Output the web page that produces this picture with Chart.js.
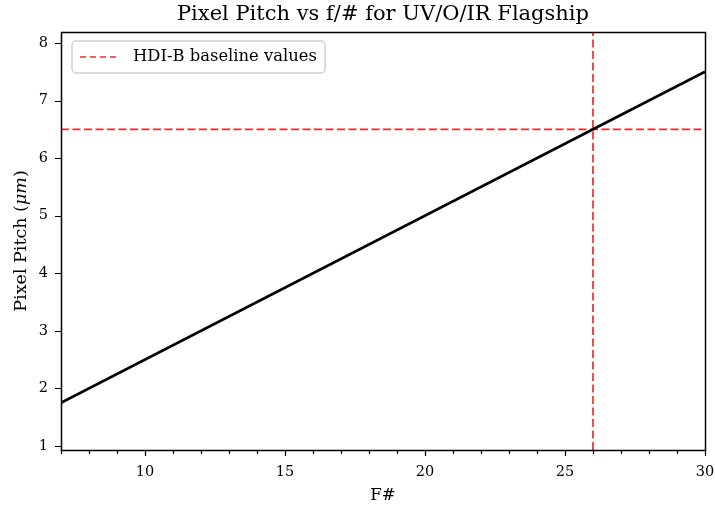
<!DOCTYPE html>
<html>
<head>
<meta charset="utf-8">
<script src="https://cdn.jsdelivr.net/npm/chart.js@4/dist/chart.umd.min.js"></script>
<style>
  html, body { margin: 0; padding: 0; background: #fff; }
  #wrap { width: 715px; height: 508px; }
</style>
</head>
<body>
<div id="wrap"><canvas id="c" width="715" height="508"></canvas></div>
<script>
// Pixel pitch scales linearly with the focal ratio
const fNumbers = [7, 30];
const pixelPitch = [1.75, 7.5];

// HDI-B baseline design point
const baselineF = 26;
const baselinePitch = 6.5;
const baselineLabel = 'HDI-B baseline values';

const chartTitle = 'Pixel Pitch vs f/# for UV/O/IR Flagship';

// Axis ranges and tick values
const xRange = [7, 30];
const yRange = [0.93, 8.19];
const xMajorTicks = [10, 15, 20, 25, 30];
const xMinorTicks = [7, 8, 9, 11, 12, 13, 14, 16, 17, 18, 19, 21, 22, 23, 24, 26, 27, 28, 29];
const yMajorTicks = [1, 2, 3, 4, 5, 6, 7, 8];

const SERIF = '"DejaVu Serif", "Liberation Serif", serif';
const RED = '#f02a2a';
const DASH = [8, 3.5];

// Title over the plot area, frame, tick marks, y-axis title and in-plot legend
const decorations = {
  id: 'decorations',
  afterDraw(chart) {
    const { ctx, chartArea: a, scales } = chart;
    const xs = scales.x, ys = scales.y;
    ctx.save();

    // title, centred on the plot area
    ctx.fillStyle = '#000';
    ctx.font = '21px ' + SERIF;
    ctx.textAlign = 'center';
    ctx.textBaseline = 'alphabetic';
    ctx.fillText(chartTitle, (a.left + a.right) / 2, 20);

    ctx.strokeStyle = '#000';
    ctx.lineWidth = 1.2;
    // ticks
    ctx.beginPath();
    xMajorTicks.forEach(v => { const px = Math.round(xs.getPixelForValue(v)) + 0.5; ctx.moveTo(px, a.bottom); ctx.lineTo(px, a.bottom + 6); });
    xMinorTicks.forEach(v => { const px = Math.round(xs.getPixelForValue(v)) + 0.5; ctx.moveTo(px, a.bottom); ctx.lineTo(px, a.bottom + 4); });
    yMajorTicks.forEach(v => { const py = Math.round(ys.getPixelForValue(v)) + 0.5; ctx.moveTo(a.left, py); ctx.lineTo(a.left - 6, py); });
    ctx.stroke();
    // frame
    ctx.lineWidth = 1.5;
    ctx.strokeRect(Math.round(a.left) + 0.5, Math.round(a.top) + 0.5, Math.round(a.right - a.left), Math.round(a.bottom - a.top));

    // y-axis title with italic unit
    const parts = [
      { t: 'Pixel Pitch (', f: '17.5px ' + SERIF },
      { t: '\u03bcm', f: 'italic 17.5px ' + SERIF },
      { t: ')', f: '17.5px ' + SERIF }
    ];
    let total = 0;
    parts.forEach(p => { ctx.font = p.f; p.w = ctx.measureText(p.t).width; total += p.w; });
    ctx.translate(21, (a.top + a.bottom) / 2);
    ctx.rotate(-Math.PI / 2);
    ctx.textAlign = 'left';
    ctx.textBaseline = 'middle';
    let x0 = -total / 2;
    parts.forEach(p => { ctx.font = p.f; ctx.fillText(p.t, x0, 0); x0 += p.w; });
    ctx.setTransform(1, 0, 0, 1, 0, 0);

    // legend
    const lx = a.left + 11, ly = a.top + 9, lw = 253, lh = 32, r = 4;
    ctx.beginPath();
    ctx.moveTo(lx + r, ly);
    ctx.arcTo(lx + lw, ly, lx + lw, ly + lh, r);
    ctx.arcTo(lx + lw, ly + lh, lx, ly + lh, r);
    ctx.arcTo(lx, ly + lh, lx, ly, r);
    ctx.arcTo(lx, ly, lx + lw, ly, r);
    ctx.closePath();
    ctx.fillStyle = 'rgba(255,255,255,0.8)';
    ctx.fill();
    ctx.strokeStyle = '#d0d0d0';
    ctx.lineWidth = 1.5;
    ctx.stroke();
    ctx.beginPath();
    ctx.strokeStyle = RED;
    ctx.lineWidth = 1.6;
    ctx.setLineDash([6, 4]);
    ctx.moveTo(lx + 8, ly + lh / 2);
    ctx.lineTo(lx + 46, ly + lh / 2);
    ctx.stroke();
    ctx.setLineDash([]);
    ctx.fillStyle = '#000';
    ctx.font = '16.4px ' + SERIF;
    ctx.textBaseline = 'middle';
    ctx.textAlign = 'left';
    ctx.fillText(baselineLabel, lx + 61, ly + lh / 2);
    ctx.restore();
  }
};

new Chart(document.getElementById('c'), {
  type: 'scatter',
  data: {
    datasets: [
      {
        label: 'Pixel pitch',
        data: fNumbers.map((f, i) => ({ x: f, y: pixelPitch[i] })),
        showLine: true,
        borderColor: '#000',
        borderWidth: 2.6,
        pointRadius: 0,
        order: 1
      },
      {
        label: baselineLabel,
        data: [{ x: xRange[0], y: baselinePitch }, { x: xRange[1], y: baselinePitch }],
        showLine: true,
        borderColor: RED,
        borderWidth: 1.7,
        borderDash: DASH,
        pointRadius: 0,
        order: 2
      },
      {
        label: baselineLabel,
        data: [{ x: baselineF, y: yRange[0] }, { x: baselineF, y: yRange[1] }],
        showLine: true,
        borderColor: RED,
        borderWidth: 1.7,
        borderDash: DASH,
        pointRadius: 0,
        order: 2
      }
    ]
  },
  options: {
    responsive: false,
    animation: false,
    layout: { padding: { left: 0, right: 10, top: 32, bottom: 0 } },
    plugins: {
      legend: { display: false },
      tooltip: { enabled: false },
      title: { display: false }
    },
    scales: {
      x: {
        type: 'linear',
        min: xRange[0],
        max: xRange[1],
        afterBuildTicks: s => { s.ticks = xMajorTicks.map(v => ({ value: v })); },
        afterFit: s => { s.height = 58; s.paddingRight = 0; s.paddingLeft = 0; },
        grid: { display: false, drawTicks: false },
        border: { display: false },
        ticks: { color: '#000', padding: 14, font: { family: SERIF, size: 14.5 } },
        title: { display: true, text: 'F#', color: '#000', font: { family: SERIF, size: 16.5 }, padding: { top: 6, bottom: 2 } }
      },
      y: {
        type: 'linear',
        min: yRange[0],
        max: yRange[1],
        afterBuildTicks: s => { s.ticks = yMajorTicks.map(v => ({ value: v })); },
        afterFit: s => { s.width = 61; s.paddingTop = 0; s.paddingBottom = 0; },
        grid: { display: false, drawTicks: false },
        border: { display: false },
        ticks: { color: '#000', padding: 13, font: { family: SERIF, size: 14.5 } },
        title: { display: false }
      }
    }
  },
  plugins: [decorations]
});
</script>
</body>
</html>
